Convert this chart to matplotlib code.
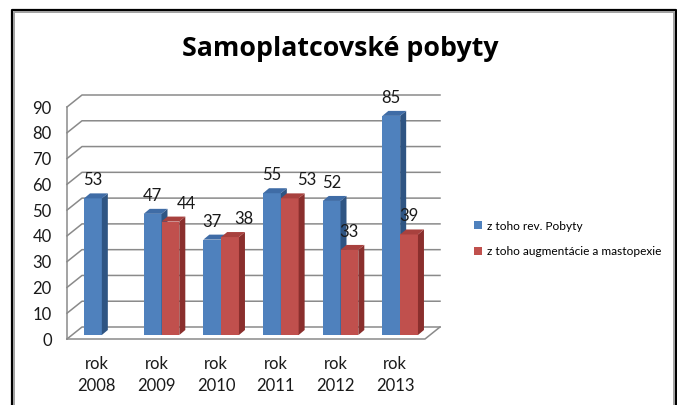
import matplotlib
matplotlib.use('Agg')
import matplotlib.pyplot as plt
from matplotlib.patches import Polygon, Patch
from matplotlib.lines import Line2D

# ---------------- data ----------------
categories = ['rok\n2008', 'rok\n2009', 'rok\n2010', 'rok\n2011', 'rok\n2012', 'rok\n2013']
rev_pobyty = [53, 47, 37, 55, 52, 85]
augmentacie = [None, 44, 38, 53, 33, 39]
series_names = ['z toho rev. Pobyty', 'z toho augmentácie a mastopexie']
yticks = [0, 10, 20, 30, 40, 50, 60, 70, 80, 90]
title = 'Samoplatcovské pobyty'

# ---------------- layout / style ----------------
FONT = 'Lato'
plt.rcParams['font.family'] = [FONT, 'DejaVu Sans']
W, H = 677, 405
fig = plt.figure(figsize=(W / 100, H / 100), dpi=100)

fx0, fx1 = 67, 425          # front plane x (px)
fy0, fy1 = 339, 107         # front plane y of 0 and max (px, image coords)
ax = fig.add_axes([fx0 / W, 1 - fy0 / H, (fx1 - fx0) / W, (fy0 - fy1) / H])
n = len(categories)
ax.set_xlim(-0.5, n - 0.5)
ax.set_ylim(yticks[0], yticks[-1])
for s in ax.spines.values():
    s.set_visible(False)
ax.set_facecolor('none')

sx = n / (fx1 - fx0)                        # data units per px (x)
sy = (yticks[-1] - yticks[0]) / (fy0 - fy1)  # data units per px (y)

def off(x, y, px, py):
    return (x + px * sx, y + py * sy)

DX, DY = 15, 12            # wall depth in px
grid_c = '#8a8a8a'
glw = 1.1
xl, xr = -0.5, n - 0.5

# back wall gridlines + left wall diagonals
for v in yticks:
    p0 = (xl, v)
    p1 = off(xl, v, DX, DY)
    p2 = off(xr, v, DX, DY)
    ax.add_line(Line2D([p0[0], p1[0], p2[0]], [p0[1], p1[1], p2[1]],
                       color=grid_c, lw=glw, zorder=1, clip_on=False))
# front left vertical edge
ax.add_line(Line2D([xl, xl], [yticks[0], yticks[-1]], color=grid_c, lw=glw, zorder=1, clip_on=False))
# floor front edge and right diagonal
q = off(xr, 0, DX, DY)
ax.add_line(Line2D([xl, xr, q[0]], [0, 0, q[1]], color=grid_c, lw=glw, zorder=1, clip_on=False))

# ---------------- bars ----------------
BW = 17.8 * sx       # bar width (data)
BOX, BOY = 5, 4      # bar offset into depth (px)
SDX, SDY = 6, 5      # bar depth (px)
colors = {
    0: ('#4F81BD', '#2F5583', '#3F6CA6'),
    1: ('#C0504D', '#8A2F2D', '#A8413E'),
}
label_shift = [[0, 0, 0, 0, 0, 0], [0, 16, 14, 17, 0, 0]]  # px, label x shift

xs = list(range(n))
bottom = BOY * sy
z = 3
for i in xs:
    for k, vals in enumerate([rev_pobyty, augmentacie]):
        v = vals[i]
        if v is None:
            continue
        fc, sc, tc = colors[k]
        left = i + BOX * sx + (k - 1) * BW
        ax.bar([left], [v], width=BW, bottom=bottom, align='edge', color=fc,
               edgecolor='none', zorder=z, clip_on=False)
        right = left + BW
        top = bottom + v
        side = [(right, bottom), (right, top), off(right, top, SDX, SDY), off(right, bottom, SDX, SDY)]
        ax.add_patch(Polygon(side, closed=True, facecolor=sc, edgecolor='none', zorder=z + 0.1, clip_on=False))
        topf = [(left, top), (right, top), off(right, top, SDX, SDY), off(left, top, SDX, SDY)]
        ax.add_patch(Polygon(topf, closed=True, facecolor=tc, edgecolor='none', zorder=z + 0.2, clip_on=False))
        lx, ly = off(left + BW / 2, top, label_shift[k][i], 18)
        ax.text(lx, ly, str(v), ha='center', va='center', fontsize=12, color='#1a1a1a', zorder=20)
        z += 1

# ---------------- ticks ----------------
ax.set_yticks(yticks)
ax.set_yticklabels([str(t) for t in yticks], fontsize=12, color='#1a1a1a')
ax.set_xticks(xs)
ax.set_xticklabels(categories, fontsize=12, color='#1a1a1a', linespacing=1.4)
ax.tick_params(axis='y', length=0, pad=11)
ax.tick_params(axis='x', length=0, pad=12.5)

# ---------------- title ----------------
fig.text(340 / W, 1 - 49 / H, title, ha='center', va='center', fontsize=19.3, fontweight='bold',
         color='black', family=['Open Sans', 'DejaVu Sans'])

# ---------------- legend ----------------
handles = [Patch(facecolor=colors[0][0], edgecolor='none'),
           Patch(facecolor=colors[1][0], edgecolor='none')]
fig.legend(handles, series_names, loc='center left', bbox_to_anchor=(466 / W, 1 - 239 / H),
           frameon=False, fontsize=8.6, handlelength=0.62, handleheight=0.62, handletextpad=0.4,
           labelspacing=1.25, borderpad=0.2)

# ---------------- frame ----------------
fig.add_artist(Line2D([12 / W, 12 / W, 676 / W, 676 / W], [0, 1 - 10 / H, 1 - 10 / H, 0],
                      transform=fig.transFigure, color='black', lw=1.6))
fig.add_artist(Line2D([14 / W, 14 / W, 674 / W, 674 / W], [0, 1 - 12 / H, 1 - 12 / H, 0],
                      transform=fig.transFigure, color='#a0a0a0', lw=1.4))

fig.savefig('out.png', dpi=100)
